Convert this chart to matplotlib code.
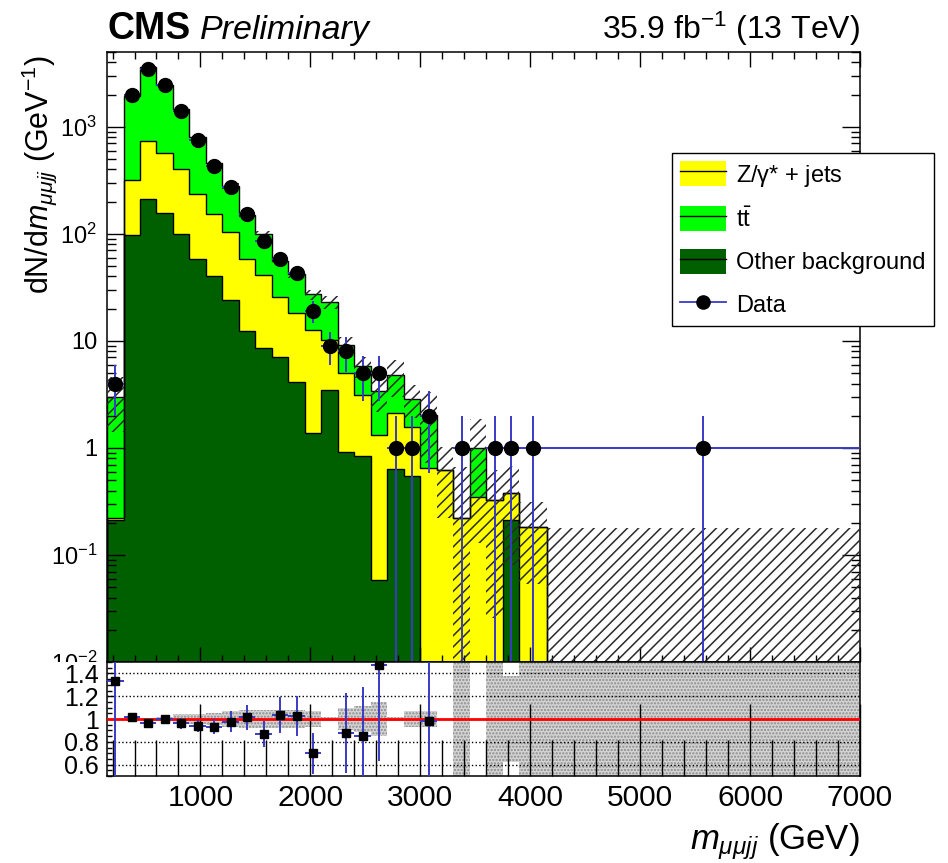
import numpy as np
import matplotlib
matplotlib.use("Agg")
import matplotlib.pyplot as plt
from matplotlib.patches import Patch, Rectangle
from matplotlib.lines import Line2D
from matplotlib.legend_handler import HandlerTuple
from matplotlib.ticker import MultipleLocator, LogLocator, FixedLocator, FixedFormatter, NullFormatter

plt.rcParams['font.family'] = ['Liberation Sans', 'DejaVu Sans']
plt.rcParams['mathtext.fontset'] = 'custom'
plt.rcParams['mathtext.rm'] = 'Liberation Sans'
plt.rcParams['mathtext.it'] = 'Liberation Sans:italic'
plt.rcParams['mathtext.bf'] = 'Liberation Sans:bold'
plt.rcParams['hatch.linewidth'] = 1.1

# m_mumujj bins (GeV)
edges = np.array([150, 300, 450, 600, 750, 900, 1050, 1200, 1350, 1500, 1650,
                  1800, 1950, 2100, 2250, 2400, 2550, 2700, 2850, 3000, 3150,
                  3300, 3450, 3600, 3750, 3900, 4150, 7000])

# data counts per bin
data = np.array([4, 1980, 3500, 2460, 1410, 750, 430, 275, 152, 86, 58, 43, 19,
                 9, 8, 5, 5, 1, 1, 2, 0, 1, 0, 1, 1, 1, 1])

# stacked backgrounds
other = np.array([0.21, 98, 211, 157, 100, 58, 40, 24, 12.4, 8.6, 7.0, 4.15, 1.39,
                  3.5, 0.92, 0.84, 0.058, 0.63, 0.546, 0, 0, 0, 0, 0, 0.212, 0, 0])
dy = np.array([0.01, 220, 524, 415, 300, 177, 113, 80, 45.3, 32.6, 18.8, 13.95, 11.3,
               6.8, 4.05, 2.28, 1.26, 1.47, 1.03, 0.645, 0.62, 0.22, 0.345, 0.326,
               0.168, 0.184, 0])
ttbar = np.array([2.78, 1623, 2885, 1888, 1066, 563, 308, 178, 92.3, 57.8, 30.2, 23.9,
                  14.5, 12.7, 4.13, 2.73, 2.07, 2.7, 1.32, 1.385, 0, 0, 0.655, 0, 0, 0, 0])

# MC uncertainty (absolute), hatched band
mc_err = np.array([1.6, 30, 55, 50, 66, 36, 23, 20, 11, 7.4, 4.2, 3.4, 3.0, 3.0, 1.7,
                   1.3, 1.2, 1.8, 1.0, 1.3, 0.4, 0.45, 0.87, 0.3, 0.3, 0.13, 0.18])

# ratio-panel grey band half widths (nan = not drawn)
band = np.array([np.nan, 0.01, 0.01, 0.015, 0.045, 0.045, 0.05, 0.07, 0.075, 0.075,
                 0.075, 0.075, 0.07, 0.02, 0.1, 0.11, 0.145, 0.02, 0.07, 0.07, np.nan,
                 0.6, np.nan, 0.6, 0.375, 0.6, 0.6])

c_yellow = '#ffff00'
c_green = '#00ff00'
c_dark = '#006000'
c_blue = '#3a3ac4'

centers = 0.5 * (edges[:-1] + edges[1:])
halfw = 0.5 * np.diff(edges)
lvl1 = other
lvl2 = other + dy
total = other + dy + ttbar
floor = 1e-4

fig = plt.figure(figsize=(9.48, 8.63), dpi=100)
ax = fig.add_axes([0.1129, 0.2329, 0.7943, 0.7068], zorder=0)
ax2 = fig.add_axes([0.1129, 0.1008, 0.7943, 0.1321], zorder=2)
ax.set_yscale('log', nonpositive='clip')

# stack
ax.stairs(np.maximum(lvl1, floor), edges, baseline=floor, fill=True, color=c_dark, lw=0, zorder=1)
ax.stairs(np.maximum(lvl2, floor), edges, baseline=np.maximum(lvl1, floor), fill=True,
          color=c_yellow, lw=0, zorder=1)
ax.stairs(np.maximum(total, floor), edges, baseline=np.maximum(lvl2, floor), fill=True,
          color=c_green, lw=0, zorder=1)
for lv in (lvl1, lvl2, total):
    ax.stairs(np.maximum(lv, floor), edges, baseline=floor, color='k', lw=1.0, zorder=2)

# MC uncertainty hatch
ax.stairs(total + mc_err, edges, baseline=np.maximum(total - mc_err, floor), fill=True,
          facecolor='none', edgecolor='#2a2a2a', hatch='///', lw=0, zorder=3)

# data
m = data > 0
d = data[m].astype(float)
lo = np.minimum(np.sqrt(d), d - floor)
ax.errorbar(centers[m], d, yerr=[lo, np.sqrt(d)], xerr=halfw[m], fmt='o', ms=10,
            mfc='k', mec='k', ecolor=c_blue, elinewidth=1.4, capsize=0, zorder=4)

ax.set_xlim(150, 7000)
ax.set_ylim(0.01, 5000)
ax.xaxis.set_major_locator(MultipleLocator(1000))
ax.xaxis.set_minor_locator(MultipleLocator(200))
ax.yaxis.set_major_locator(FixedLocator([0.01, 0.1, 1, 10, 100, 1000]))
ax.yaxis.set_major_formatter(FixedFormatter([r'$10^{-2}$', r'$10^{-1}$', '1', '10',
                                             r'$10^{2}$', r'$10^{3}$']))
ax.yaxis.set_minor_locator(LogLocator(base=10, subs=np.arange(2, 10), numticks=20))
ax.yaxis.set_minor_formatter(NullFormatter())
ax.tick_params(which='both', direction='in', top=True, right=True, labelbottom=False,
               width=1.0, labelsize=17, pad=7)
ax.tick_params(axis='x', which='major', length=11)
ax.tick_params(axis='x', which='minor', length=5)
ax.tick_params(axis='y', which='major', length=13)
ax.tick_params(axis='y', which='minor', length=6.5)
for s in ax.spines.values():
    s.set_linewidth(1.1)

# white pad under the main panel (hides lower half of the 10^-2 label)
fig.patches.append(Rectangle((0, 0), 1, 0.2329, transform=fig.transFigure,
                             facecolor='white', edgecolor='none', zorder=1))

# ratio panel
ratio = np.full(len(data), np.nan)
ok = (data > 0) & (total > 0)
ratio[ok] = data[ok] / total[ok]
rerr = np.full(len(data), np.nan)
rerr[ok] = ratio[ok] * np.sqrt(1.0 / data[ok] + (mc_err[ok] / total[ok]) ** 2)

bm = ~np.isnan(band)
ax2.bar(edges[:-1][bm], 2 * band[bm], bottom=1 - band[bm], width=np.diff(edges)[bm],
        align='edge', facecolor='#d4d4d4', edgecolor='#8c8c8c', hatch='.....', lw=0,
        zorder=1)
ax2.yaxis.grid(True, ls=':', color='k', lw=1.0, zorder=2)
ax2.axhline(1.0, color='#ff0000', lw=2.0, zorder=3)
show = ok & (ratio > 0.5) & (ratio < 1.5)
ax2.errorbar(centers[show], ratio[show], yerr=rerr[show], xerr=halfw[show], fmt='s',
             ms=6, mfc='k', mec='k', ecolor=c_blue, elinewidth=1.4, capsize=0, zorder=4)
ax2.set_xlim(150, 7000)
ax2.set_ylim(0.5, 1.5)
ax2.set_axisbelow(False)
ax2.xaxis.set_major_locator(MultipleLocator(1000))
ax2.xaxis.set_minor_locator(MultipleLocator(200))
ax2.yaxis.set_major_locator(FixedLocator([0.6, 0.8, 1.0, 1.2, 1.4]))
ax2.yaxis.set_major_formatter(FixedFormatter(['0.6', '0.8', '1', '1.2', '1.4']))
ax2.yaxis.set_minor_locator(MultipleLocator(0.05))
ax2.tick_params(which='both', direction='in', top=False, right=False, width=1.0)
ax2.tick_params(axis='x', which='major', length=52, labelsize=21.5, pad=6)
ax2.tick_params(axis='x', which='minor', length=26)
ax2.tick_params(axis='y', which='major', length=6, labelsize=18, pad=6)
ax2.tick_params(axis='y', which='minor', length=3.5)
for s in ax2.spines.values():
    s.set_linewidth(1.1)

# legend
handles = [(Patch(facecolor=c_yellow, edgecolor='none'), Line2D([], [], color='k', lw=1)),
           (Patch(facecolor=c_green, edgecolor='none'), Line2D([], [], color='k', lw=1)),
           (Patch(facecolor=c_dark, edgecolor='none'), Line2D([], [], color='k', lw=1)),
           Line2D([], [], color=c_blue, lw=1.3, marker='o', ms=9.5, mfc='k', mec='k')]
labels = [r'Z/$\mathrm{\gamma}$* + jets', r'$\mathrm{t\bar{t}}$', 'Other background', 'Data']
leg = fig.legend(handles, labels, loc='upper left', bbox_to_anchor=(0.7089, 0.8227),
                 bbox_transform=fig.transFigure, fontsize=17, frameon=True, fancybox=False,
                 edgecolor='k', framealpha=1, borderpad=0.35, labelspacing=0.74,
                 handlelength=1.95, handleheight=1.25, handletextpad=0.4, borderaxespad=0,
                 handler_map={tuple: HandlerTuple(ndivide=1)})
leg.get_frame().set_linewidth(1.0)
leg.set_zorder(5)

# titles and axis labels
fig.text(0.1129, 1 - 39 / 863, 'CMS', fontsize=27, fontweight='bold', ha='left', va='baseline')
fig.text(0.2110, 1 - 39 / 863, 'Preliminary', fontsize=24.5, fontstyle='italic', ha='left',
         va='baseline')
fig.text(0.9072, 1 - 39 / 863, r'35.9 fb$^{\mathregular{-1}}$ (13 TeV)', fontsize=23,
         ha='right', va='baseline')
fig.text(0.041, 0.936, r'dN/d$m_{\mu\mu jj}$ (GeV$^{\mathregular{-1}}$)', fontsize=22,
         rotation=90, ha='center', va='top')
fig.text(0.9072, 1 - 849 / 863, r'$m_{\mu\mu jj}$ (GeV)', fontsize=25, ha='right',
         va='baseline')

fig.savefig('out.png', dpi=100)
